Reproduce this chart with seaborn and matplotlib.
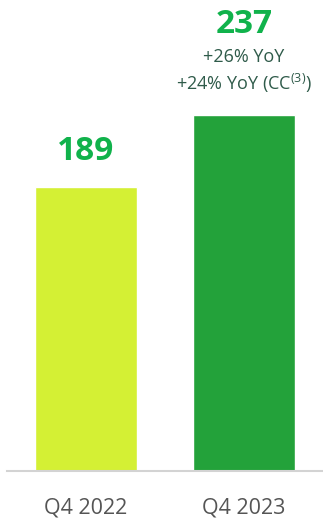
import matplotlib.pyplot as plt
import pandas as pd
import seaborn as sns

quarters = ["Q4 2022", "Q4 2023"]
values = [189, 237]
value_labels = ["189", "237"]
growth_lines = ["+26% YoY", "+24% YoY (CC$^{(3)}$)"]

BAR_COLORS = ["#d4f034", "#23a23a"]
LABEL_GREEN = "#10b24b"
NOTE_COLOR = "#2f5b4a"


def main() -> None:
    sns.set_theme(style="white")
    plt.rcParams["font.family"] = ["Open Sans", "DejaVu Sans"]
    plt.rcParams["mathtext.default"] = "regular"

    df = pd.DataFrame({"quarter": quarters, "value": values})

    fig = plt.figure(figsize=(3.23, 5.18), dpi=100)
    ax = fig.add_axes([7 / 323, 47 / 518, 316 / 323, 471 / 518])
    sns.barplot(
        data=df, x="quarter", y="value", hue="quarter",
        palette=BAR_COLORS, width=0.646, legend=False, ax=ax,
        saturation=1,
    )
    ax.set_xlim(-0.5, 1.5)
    ax.set_ylim(0, 313.6)
    for side in ["top", "right", "left"]:
        ax.spines[side].set_visible(False)
    ax.spines["bottom"].set_color("#d3d3d3")
    ax.spines["bottom"].set_linewidth(1.5)
    ax.set_yticks([])
    ax.set_xlabel("")
    ax.set_ylabel("")
    ax.tick_params(axis="x", length=0, pad=19, labelsize=15.5, labelcolor="#555555")

    ax.annotate(value_labels[0], (0, values[0]), xytext=(0, 26), textcoords="offset points",
                ha="center", va="center", fontsize=24, fontweight="bold", color=LABEL_GREEN)
    ax.annotate(value_labels[1], (1, values[1]), xytext=(0, 65), textcoords="offset points",
                ha="center", va="center", fontsize=24, fontweight="bold", color=LABEL_GREEN)
    ax.annotate(growth_lines[0], (1, values[1]), xytext=(0, 42), textcoords="offset points",
                ha="center", va="center", fontsize=13, color=NOTE_COLOR)
    ax.annotate(growth_lines[1], (1, values[1]), xytext=(0, 23), textcoords="offset points",
                ha="center", va="center", fontsize=13, color=NOTE_COLOR)

    fig.savefig("out.png", dpi=100)


if __name__ == "__main__":
    main()
